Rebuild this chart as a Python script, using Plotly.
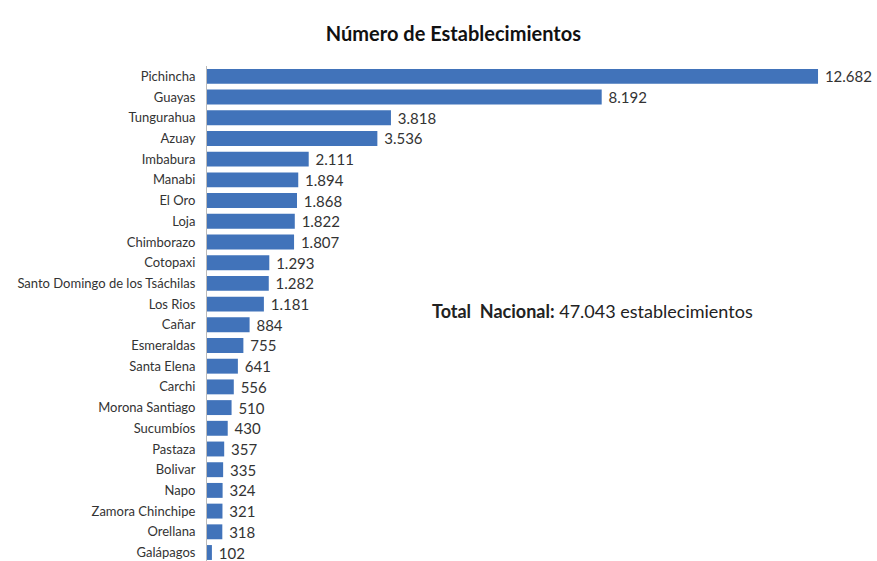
import plotly.graph_objects as go

provincias = ["Pichincha", "Guayas", "Tungurahua", "Azuay", "Imbabura", "Manabi", "El Oro", "Loja",
              "Chimborazo", "Cotopaxi", "Santo Domingo de los Tsáchilas", "Los Rios", "Cañar",
              "Esmeraldas", "Santa Elena", "Carchi", "Morona Santiago", "Sucumbíos", "Pastaza",
              "Bolivar", "Napo", "Zamora Chinchipe", "Orellana", "Galápagos"]
establecimientos = [12682, 8192, 3818, 3536, 2111, 1894, 1868, 1822, 1807, 1293, 1282, 1181, 884,
                    755, 641, 556, 510, 430, 357, 335, 324, 321, 318, 102]

FONT = "Lato, 'Open Sans', sans-serif"

fig = go.Figure(go.Bar(
    y=provincias, x=establecimientos, orientation="h",
    marker=dict(color="#4173BA", line=dict(width=0)),
    width=0.72,
    texttemplate="\u00a0%{x:,}", textposition="outside", constraintext="none",
    textfont=dict(family=FONT, size=15, color="#333333"),
    cliponaxis=False,
))

fig.update_layout(
    width=877, height=561,
    margin=dict(l=207, r=0, t=66, b=0),
    paper_bgcolor="white", plot_bgcolor="white",
    separators=",.",
    showlegend=False,
    title=dict(text="<b>Número de Establecimientos</b>", x=0.517, xanchor="center",
               y=0.94, yanchor="middle",
               font=dict(family=FONT, size=20, color="#111111")),
    xaxis=dict(range=[0, 13906], visible=False, showgrid=False, zeroline=False),
    yaxis=dict(range=[23.41, -0.5], showgrid=False, zeroline=False,
               showline=True, linecolor="#BBBBBB", linewidth=1,
               ticks="", ticklabelstandoff=8,
               tickfont=dict(family=FONT, size=13, color="#333333")),
    annotations=[dict(text="<b>Total  Nacional:</b> 47.043 establecimientos",
                      xref="paper", yref="paper", x=0.333, y=0.506,
                      xanchor="left", yanchor="middle", showarrow=False,
                      font=dict(family=FONT, size=18, color="#222222"))],
)

fig.write_html("out.html")
